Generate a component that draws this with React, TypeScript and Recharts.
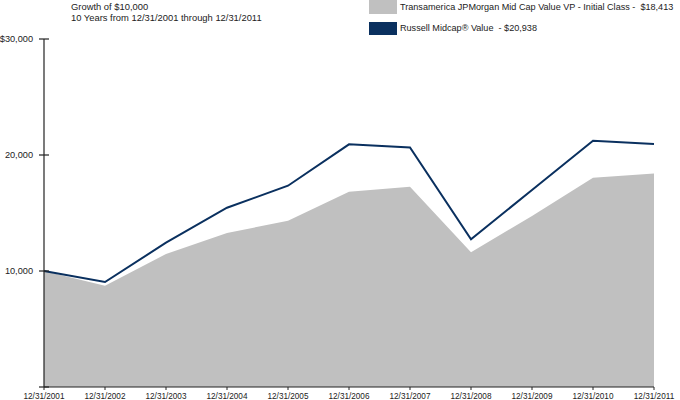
import { Area, ComposedChart, Line, XAxis, YAxis } from "recharts";

const years = [
  "12/31/2001",
  "12/31/2002",
  "12/31/2003",
  "12/31/2004",
  "12/31/2005",
  "12/31/2006",
  "12/31/2007",
  "12/31/2008",
  "12/31/2009",
  "12/31/2010",
  "12/31/2011",
];
const fundValues = [10000, 8733, 11466, 13276, 14336, 16836, 17267, 11612, 14741, 18043, 18413];
const indexValues = [10000, 9052, 12440, 15457, 17353, 20922, 20647, 12733, 16983, 21233, 20938];
const yTicks = [0, 10000, 20000, 30000];

const fundName = "Transamerica JPMorgan Mid Cap Value VP - Initial Class -  $18,413";
const indexName = "Russell Midcap® Value  - $20,938";
const titleLines = ["Growth of $10,000", "10 Years from 12/31/2001 through 12/31/2011"];

const FONT = "'Liberation Sans', Arial, sans-serif";
const GRAY = "#c0c0c0";
const NAVY = "#0a305f";
const INK = "#222";

const data = years.map((year, i) => ({
  year,
  fund: fundValues[i],
  index: indexValues[i],
}));

function yLabel(v: number) {
  if (v === 0) return "";
  const s = v.toLocaleString("en-US");
  return v === 30000 ? "$" + s : s;
}

function YTick(props: any) {
  const { x, y, payload } = props;
  return (
    <g>
      <line x1={x + 6} x2={x + 16} y1={y} y2={y} stroke={INK} strokeWidth={1.2} />
      <text x={x} y={y} dy="0.35em" textAnchor="end" fontSize={9.2} fill={INK} fontFamily={FONT}>
        {yLabel(payload.value)}
      </text>
    </g>
  );
}

export default function App() {
  return (
    <div
      style={{
        position: "absolute",
        left: 0,
        top: 0,
        width: 680,
        height: 400,
        background: "#fff",
        fontFamily: FONT,
      }}
    >
      <ComposedChart
        width={680}
        height={400}
        data={data}
        margin={{ top: 39, right: 26, left: 0, bottom: 0 }}
      >
        <XAxis
          dataKey="year"
          height={13}
          interval={0}
          tickSize={3}
          tickMargin={3}
          stroke={INK}
          tick={{ fontSize: 8.2, fill: INK, fontFamily: FONT }}
          axisLine={{ stroke: INK, strokeWidth: 1.2 }}
        />
        <YAxis
          width={44}
          domain={[0, 30000]}
          ticks={yTicks}
          tickSize={0}
          tickMargin={11}
          tickLine={false}
          tick={<YTick />}
          axisLine={{ stroke: INK, strokeWidth: 1.2 }}
        />
        <Area
          type="linear"
          dataKey="fund"
          fill={GRAY}
          fillOpacity={1}
          stroke="none"
          isAnimationActive={false}
        />
        <Line
          type="linear"
          dataKey="index"
          stroke={NAVY}
          strokeWidth={2}
          dot={false}
          isAnimationActive={false}
        />
      </ComposedChart>
      <svg
        width={680}
        height={40}
        style={{ position: "absolute", left: 0, top: 0, pointerEvents: "none" }}
      >
        <text x={71} y={10} fontSize={9.4} fill={INK} fontFamily={FONT}>
          {titleLines[0]}
        </text>
        <text x={71} y={21} fontSize={9.4} fill={INK} fontFamily={FONT}>
          {titleLines[1]}
        </text>
        <rect x={369} y={0} width={28} height={14} fill={GRAY} />
        <text x={400} y={10} fontSize={9.1} fill={INK} fontFamily={FONT} style={{ whiteSpace: "pre" }}>
          {fundName}
        </text>
        <rect x={369} y={22} width={28} height={13} fill={NAVY} />
        <text x={400} y={31} fontSize={9.1} fill={INK} fontFamily={FONT} style={{ whiteSpace: "pre" }}>
          {indexName}
        </text>
      </svg>
    </div>
  );
}
